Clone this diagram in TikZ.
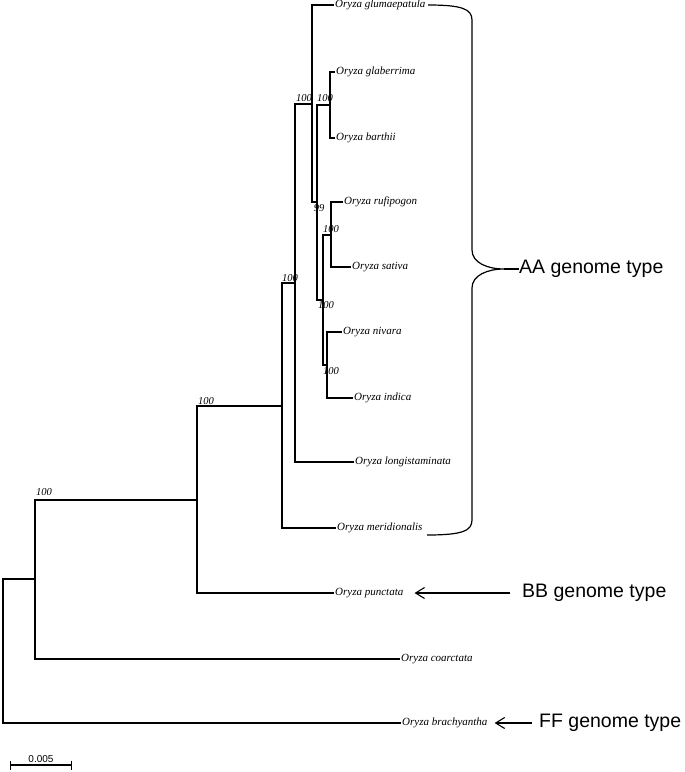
\documentclass[tikz,border=0pt]{standalone}
\usepackage{fontspec}
\setmainfont{Liberation Serif}
\newfontfamily\arialf{Liberation Sans}
\usetikzlibrary{arrows.meta}
\begin{document}
\begin{tikzpicture}[x=1pt,y=-1pt,
  branch/.style={line width=1.1pt,black},
  taxon/.style={anchor=west,inner sep=1pt,font=\fontsize{11}{13}\selectfont\itshape},
  boot/.style={inner sep=0pt,font=\fontsize{10.5}{12}\selectfont\itshape},
  genome/.style={anchor=west,inner sep=0pt,font=\arialf\fontsize{19.5}{22}\selectfont},
  garrow/.style={line width=1.1pt,-{Straight Barb[length=9pt,width=11pt]}},
  bracestyle/.style={line width=1.2pt,black}]
\path[use as bounding box] (0,0) rectangle (685,772);
% internal nodes
\coordinate (R) at (3,651);
\coordinate (N1) at (35,579);
\coordinate (N2) at (197,500);
\coordinate (N3) at (282,406);
\coordinate (N4) at (295,283);
\coordinate (A) at (312,104);
\coordinate (C) at (317,202);
\coordinate (GB) at (330,105);
\coordinate (D) at (323,300);
\coordinate (RS) at (331,235);
\coordinate (NI) at (327,365);
% taxa
\node[taxon] (glum) at (334,5) {Oryza glumaepatula};
\node[taxon] (glab) at (335,72) {Oryza glaberrima};
\node[taxon] (bart) at (335,138) {Oryza barthii};
\node[taxon] (rufi) at (343,202) {Oryza rufipogon};
\node[taxon] (sati) at (351,267) {Oryza sativa};
\node[taxon] (niva) at (342,332) {Oryza nivara};
\node[taxon] (indi) at (353,398) {Oryza indica};
\node[taxon] (long) at (354,462) {Oryza longistaminata};
\node[taxon] (meri) at (336,528) {Oryza meridionalis};
\node[taxon] (punc) at (334,593) {Oryza punctata};
\node[taxon] (coar) at (400,659) {Oryza coarctata};
\node[taxon] (brac) at (401,723) {Oryza brachyantha};
% branches
\draw[branch] (R) |- (N1);   \draw[branch] (R) |- (brac.west);
\draw[branch] (N1) |- (N2);  \draw[branch] (N1) |- (coar.west);
\draw[branch] (N2) |- (N3);  \draw[branch] (N2) |- (punc.west);
\draw[branch] (N3) |- (N4);  \draw[branch] (N3) |- (meri.west);
\draw[branch] (N4) |- (A);   \draw[branch] (N4) |- (long.west);
\draw[branch] (A) |- (glum.west); \draw[branch] (A) |- (C);
\draw[branch] (C) |- (GB);   \draw[branch] (C) |- (D);
\draw[branch] (GB) |- (glab.west); \draw[branch] (GB) |- (bart.west);
\draw[branch] (D) |- (RS);   \draw[branch] (D) |- (NI);
\draw[branch] (RS) |- (rufi.west); \draw[branch] (RS) |- (sati.west);
\draw[branch] (NI) |- (niva.west); \draw[branch] (NI) |- (indi.west);
% bootstrap values
\node[boot] (b1) at (44,492) {100};
\node[boot] (b2) at (206,401) {100};
\node[boot] (b3) at (290,278) {100};
\node[boot] (b4) at (304,98) {100};
\node[boot] (b5) at (325,98) {100};
\node[boot] (b6) at (319,208) {99};
\node[boot] (b7) at (331,229) {100};
\node[boot] (b8) at (326,305) {100};
\node[boot] (b9) at (331,371) {100};
% genome labels
\node[genome] (AA) at (519,269) {AA genome type};
\node[genome] (BB) at (522,593) {BB genome type};
\node[genome] (FF) at (539,723) {FF genome type};
\coordinate (bt) at (428,5);
\coordinate (bb) at (427,535);
\coordinate (cusp) at (504,269);
\draw[bracestyle] (bt) .. controls (462,5) and (472,9) .. (472,20) -- (472,250)
  .. controls (472,263) and (488,269) .. (cusp)
  .. controls (488,269) and (472,275) .. (472,288) -- (472,520)
  .. controls (472,531) and (462,535) .. (bb);
\draw[bracestyle] (cusp) -- (AA.west);
\draw[garrow] ([xshift=-12pt]BB.west) -- ([xshift=10pt]punc.east);
\draw[garrow] ([xshift=-7pt]FF.west) -- ([xshift=6pt]brac.east);
% scale bar
\coordinate (s1) at (10,765);
\coordinate (s2) at (72,765);
\draw[line width=1.1pt,{Bar[width=9pt]}-{Bar[width=9pt]}] (s1) -- (s2);
\node[font=\arialf\fontsize{10}{12}\selectfont,anchor=south,inner sep=1pt] (sl) at (41,764) {0.005};
\end{tikzpicture}
\end{document}
